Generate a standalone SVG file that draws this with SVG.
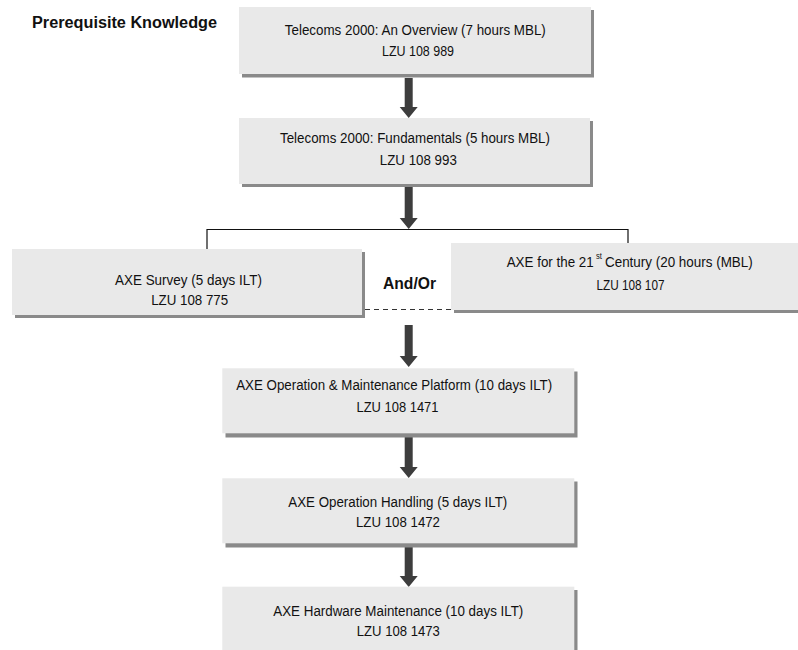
<svg xmlns="http://www.w3.org/2000/svg" width="798" height="650" viewBox="0 0 798 650">
<style>
  .box{fill:#e9e9e9}
  .shadow{fill:#8a8a8a}
  .t{font-family:"Liberation Sans",Arial,sans-serif;font-size:15.5px;fill:#111;text-anchor:middle}
  .s{font-family:"Liberation Sans",Arial,sans-serif;font-size:15.5px;fill:#111}
  .sup{font-family:"Liberation Sans",Arial,sans-serif;font-size:9px;fill:#111}
  .b{font-family:"Liberation Sans",Arial,sans-serif;font-size:16px;font-weight:bold;fill:#111}
  .arrow{fill:#3d3d3d}
  .line{fill:none;stroke:#111;stroke-width:1.2}
  .dash{fill:none;stroke:#333;stroke-width:1.2;stroke-dasharray:5 4}
</style>
<rect width="798" height="650" fill="#ffffff"/>

<text class="b" x="32" y="28" textLength="185" lengthAdjust="spacingAndGlyphs">Prerequisite Knowledge</text>

<g id="connectors">
  <path class="arrow" d="M404.7 78 H412.7 V107 H417.7 L408.7 118 L399.7 107 H404.7 Z"/>
  <path class="arrow" d="M404.7 187 H412.7 V218 H417.7 L408.7 229 L399.7 218 H404.7 Z"/>
  <path class="line" d="M207 249 V229.5 H628 V243"/>
  <path class="dash" d="M365 309.5 H451"/>
  <path class="arrow" d="M404.7 325 H412.7 V356 H417.7 L408.7 367 L399.7 356 H404.7 Z"/>
  <path class="arrow" d="M404.7 437 H412.7 V467 H417.7 L408.7 478 L399.7 467 H404.7 Z"/>
  <path class="arrow" d="M404.7 547 H412.7 V576 H417.7 L408.7 587 L399.7 576 H404.7 Z"/>
  <text class="b" x="383" y="288.5" textLength="53" lengthAdjust="spacingAndGlyphs">And/Or</text>
</g>

<g id="n1">
  <rect class="shadow" x="242" y="10" width="352" height="67.5"/>
  <rect class="box" x="239" y="7" width="352" height="67"/>
  <text class="t" x="415.3" y="34.5" textLength="261" lengthAdjust="spacingAndGlyphs">Telecoms 2000: An Overview (7 hours MBL)</text>
  <text class="t" x="418" y="55.5" textLength="72" lengthAdjust="spacingAndGlyphs">LZU 108 989</text>
</g>

<g id="n2">
  <rect class="shadow" x="242" y="121" width="351" height="66"/>
  <rect class="box" x="239" y="118" width="351" height="66"/>
  <text class="t" x="415" y="143.3" textLength="270" lengthAdjust="spacingAndGlyphs">Telecoms 2000: Fundamentals (5 hours MBL)</text>
  <text class="t" x="418.3" y="165" textLength="77" lengthAdjust="spacingAndGlyphs">LZU 108 993</text>
</g>

<g id="n3">
  <rect class="shadow" x="15" y="252" width="350" height="66"/>
  <rect class="box" x="12" y="249" width="350" height="66"/>
  <text class="t" x="188.5" y="284.5" textLength="147" lengthAdjust="spacingAndGlyphs">AXE Survey (5 days ILT)</text>
  <text class="t" x="189.7" y="305" textLength="77" lengthAdjust="spacingAndGlyphs">LZU 108 775</text>
</g>

<g id="n4">
  <rect class="shadow" x="454" y="246" width="350" height="67"/>
  <rect class="box" x="451" y="243" width="350" height="67"/>
  <text class="s" x="506.7" y="266.7" textLength="87" lengthAdjust="spacingAndGlyphs">AXE for the 21</text>
  <text class="sup" x="596" y="259" textLength="6" lengthAdjust="spacingAndGlyphs">st</text>
  <text class="s" x="605" y="266.7" textLength="147.7" lengthAdjust="spacingAndGlyphs">Century (20 hours (MBL)</text>
  <text class="t" x="630.5" y="290" textLength="68" lengthAdjust="spacingAndGlyphs">LZU 108 107</text>
</g>

<g id="n5">
  <rect class="shadow" x="225.5" y="371.5" width="352" height="66"/>
  <rect class="box" x="222.3" y="368.3" width="352" height="65"/>
  <text class="t" x="394.2" y="390" textLength="316" lengthAdjust="spacingAndGlyphs">AXE Operation &amp; Maintenance Platform (10 days ILT)</text>
  <text class="t" x="397.5" y="411.5" textLength="82" lengthAdjust="spacingAndGlyphs">LZU 108 1471</text>
</g>

<g id="n6">
  <rect class="shadow" x="225.5" y="481.5" width="352" height="66"/>
  <rect class="box" x="222.3" y="478.3" width="352" height="65"/>
  <text class="t" x="397.8" y="506.7" textLength="219" lengthAdjust="spacingAndGlyphs">AXE Operation Handling (5 days ILT)</text>
  <text class="t" x="398" y="526.5" textLength="84" lengthAdjust="spacingAndGlyphs">LZU 108 1472</text>
</g>

<g id="n7">
  <rect class="shadow" x="225.5" y="590" width="352" height="70"/>
  <rect class="box" x="222.3" y="586.7" width="352" height="70"/>
  <text class="t" x="398.3" y="615.5" textLength="250" lengthAdjust="spacingAndGlyphs">AXE Hardware Maintenance (10 days ILT)</text>
  <text class="t" x="398.3" y="635.5" textLength="83" lengthAdjust="spacingAndGlyphs">LZU 108 1473</text>
</g>
</svg>
